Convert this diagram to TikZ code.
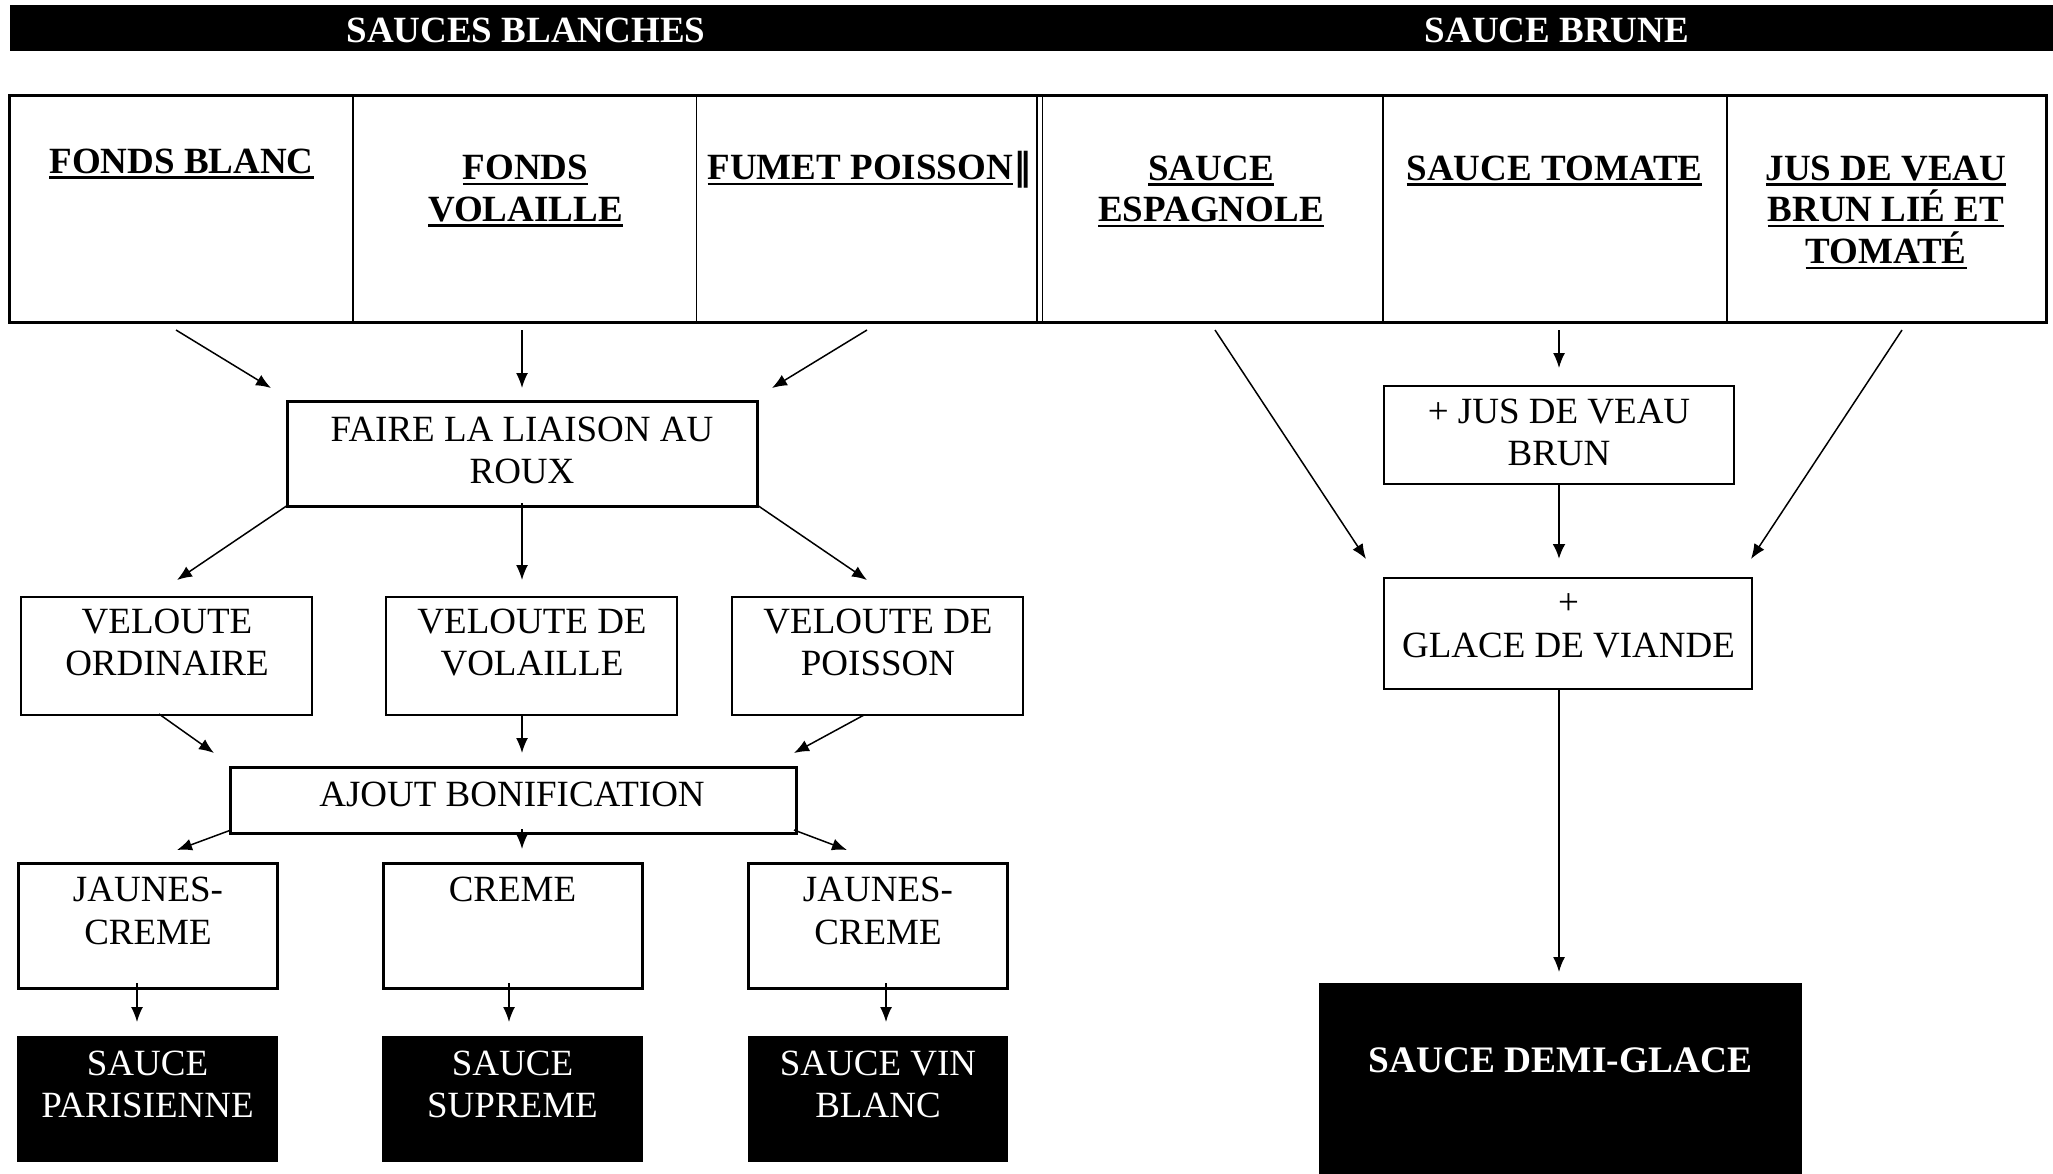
\documentclass[tikz,border=0pt]{standalone}
\usepackage{fontspec}
\setmainfont{Liberation Serif}
\newfontfamily\djv{DejaVu Serif}
\usetikzlibrary{arrows.meta}
\newcommand\ulx[1]{\setbox0\hbox{#1}\rlap{\rule[-5.6pt]{\wd0}{2.6pt}}\box0}
\newcommand\mlt[1]{\vtop{\lineskiplimit=-\maxdimen\lineskip=0pt\halign{\hfil##\hfil\cr#1\crcr}}}
\begin{document}
\begin{tikzpicture}[x=1pt,y=-1pt,
  every node/.style={inner sep=0pt, outer sep=0pt},
  txt/.style={anchor=base, font=\fontsize{37}{42.3}\selectfont},
  hdr/.style={anchor=base, font=\fontsize{37}{41.8}\selectfont\bfseries},
  bx/.style 2 args={minimum width=#1pt, minimum height=#2pt},
  thinbox/.style={draw, line width=1.8pt, anchor=north west},
  thickbox/.style={draw, line width=3pt, anchor=north west},
  blackbox/.style={fill=black, draw=none, anchor=north west},
  arr/.style={line width=1.5pt, -{Latex[length=15pt,width=12pt]}},
  arrb/.style={line width=2.6pt, -{Latex[length=15pt,width=13pt]}},
]
\useasboundingbox (0,0) rectangle (2053,1173);

% title bar
\node[blackbox, bx={2043}{46}] (bar) at (10,5) {};
\node[hdr, text=white] (t1) at (526,42.5) {SAUCES BLANCHES};
\node[hdr, text=white] (t2) at (1557,42) {SAUCE BRUNE};

% header table
\draw[line width=1.8pt] (353,95) -- (353,322) (696.5,95) -- (696.5,322)
  (1037,95) -- (1037,322) (1042.5,95) -- (1042.5,322)
  (1383,95) -- (1383,322) (1727,95) -- (1727,322);
\draw[line width=3pt] (9,95) rectangle (2046,322);
\node[hdr] (h1) at (181.5,173) {\ulx{FONDS BLANC}};
\node[hdr] (h2) at (525.5,179.5) {\mlt{\ulx{FONDS}\cr\ulx{VOLAILLE}}};
\node[hdr] (h3) at (870,179.5) {\ulx{FUMET POISSON}\kern1pt{\djv ‖}};
\node[hdr] (h4) at (1211,180) {\mlt{\ulx{SAUCE}\cr\ulx{ESPAGNOLE}}};
\node[hdr] (h5) at (1554.5,180) {\ulx{SAUCE TOMATE}};
\node[hdr] (h6) at (1886,180) {\mlt{\ulx{JUS DE VEAU}\cr\ulx{BRUN LIÉ ET}\cr\ulx{TOMATÉ}}};

% left column: boxes
\node[thickbox, bx={470}{105}] (faire) at (287,401) {};
\node[txt] (faireT) at (522,441.6) {\mlt{FAIRE LA LIAISON AU\cr ROUX}};

\node[thinbox, bx={291}{118}] (vo1) at (21,597) {};
\node[thinbox, bx={291}{118}] (vo2) at (386,597) {};
\node[thinbox, bx={291}{118}] (vo3) at (732,597) {};
\node[txt] (vo1T) at (167,633.5) {\mlt{VELOUTE\cr ORDINAIRE}};
\node[txt] (vo2T) at (532,633.5) {\mlt{VELOUTE DE\cr VOLAILLE}};
\node[txt] (vo3T) at (878,633.5) {\mlt{VELOUTE DE\cr POISSON}};

\node[thickbox, bx={566}{66}] (ajout) at (230,767) {};
\node[txt] (ajoutT) at (512,806.6) {AJOUT BONIFICATION};

\node[thickbox, bx={259}{125}] (j1) at (18,863) {};
\node[thickbox, bx={259}{125}] (j2) at (383,863) {};
\node[thickbox, bx={259}{125}] (j3) at (748,863) {};
\node[txt] (j1T) at (148,901.7) {\mlt{JAUNES-\cr CREME}};
\node[txt] (j2T) at (512.5,901.7) {CREME};
\node[txt] (j3T) at (878,901.7) {\mlt{JAUNES-\cr CREME}};

\node[blackbox, bx={261}{126}] (s1) at (17,1036) {};
\node[blackbox, bx={261}{126}] (s2) at (382,1036) {};
\node[blackbox, bx={260}{126}] (s3) at (748,1036) {};
\node[txt, text=white] (s1T) at (147.5,1075) {\mlt{SAUCE\cr PARISIENNE}};
\node[txt, text=white] (s2T) at (512.5,1075) {\mlt{SAUCE\cr SUPREME}};
\node[txt, text=white] (s3T) at (878,1075) {\mlt{SAUCE VIN\cr BLANC}};

% right column: boxes
\node[thinbox, bx={350}{98}] (jus) at (1384,386) {};
\node[txt] (jusT) at (1559,423.4) {\mlt{+ JUS DE VEAU\cr BRUN}};
\node[thinbox, bx={368}{111}] (glace) at (1384,578) {};
\node[txt, font=\fontsize{37}{43.3}\selectfont] (glaceT) at (1568.5,614) {\mlt{+\cr GLACE DE VIANDE}};
\node[blackbox, bx={483}{191}] (demi) at (1319,982.5) {};
\node[txt, font=\fontsize{37.4}{40}\selectfont\bfseries, text=white] (demiT) at (1560.5,1072.4) {SAUCE DEMI-GLACE};

% connector end points
\coordinate (a1s) at (176,330);  \coordinate (a1e) at (271,388);
\coordinate (a2s) at (522,330);  \coordinate (a2e) at (522,388);
\coordinate (a3s) at (867,330);  \coordinate (a3e) at (772,388);
\coordinate (b1s) at (288,505);  \coordinate (b1e) at (177,580);
\coordinate (b2s) at (522,503);  \coordinate (b2e) at (522,580);
\coordinate (b3s) at (757,505);  \coordinate (b3e) at (867,580);
\coordinate (c1s) at (159,714);  \coordinate (c1e) at (214,753);
\coordinate (c2s) at (522,715);  \coordinate (c2e) at (522,753);
\coordinate (c3s) at (864,715);  \coordinate (c3e) at (794,753);
\coordinate (d1s) at (231,830);  \coordinate (d1e) at (177,850);
\coordinate (d2s) at (522,829);  \coordinate (d2e) at (522,849);
\coordinate (d3s) at (794,830);  \coordinate (d3e) at (847,850);
\coordinate (e1s) at (137,983);  \coordinate (e1e) at (137,1022);
\coordinate (e2s) at (509,983);  \coordinate (e2e) at (509,1022);
\coordinate (e3s) at (886,983);  \coordinate (e3e) at (886,1022);
\coordinate (f1s) at (1215,330); \coordinate (f1e) at (1366,559);
\coordinate (f2s) at (1559,330); \coordinate (f2e) at (1559,368);
\coordinate (f3s) at (1902,330); \coordinate (f3e) at (1751,559);
\coordinate (gs) at (1559,484);  \coordinate (ge) at (1559,559);
\coordinate (hs) at (1559,689);  \coordinate (he) at (1559,972);

\foreach \p in {a1,a2,a3,b1,b2,b3,c1,c2,c3,d1,d2,d3,e1,e2,e3,f1,f2,f3,h}
  \draw[arr] (\p s) -- (\p e);
\draw[arrb] (gs) -- (ge);
\end{tikzpicture}
\end{document}
